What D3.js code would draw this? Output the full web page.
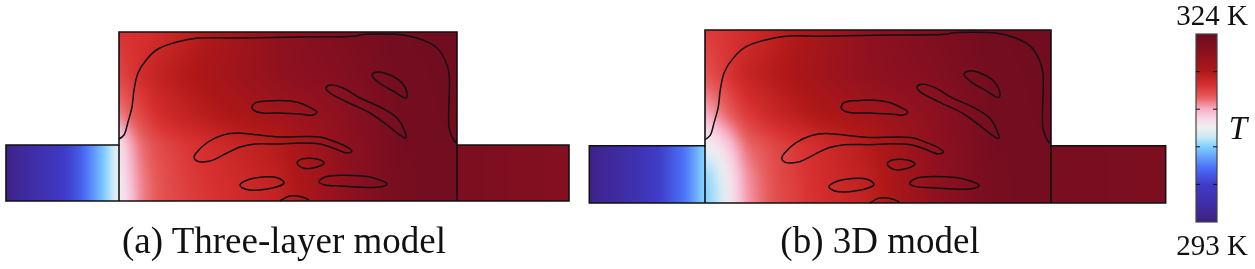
<!DOCTYPE html>
<html lang="en">
<head>
<meta charset="UTF-8">
<title>Temperature field: three-layer model and 3D model</title>
<script src="https://d3js.org/d3.v7.min.js"></script>
<style>
    html, body { margin: 0; padding: 0; background: #fff; }
    #wrap { position: relative; width: 1255px; height: 269px; overflow: hidden; filter: blur(0.4px); }
    canvas, svg { position: absolute; left: 0; top: 0; }
    text { font-family: "Liberation Serif", serif; fill: #111; }
</style>
</head>
<body>
<div id="wrap">
    <canvas id="field" width="1255" height="269"></canvas>
    <svg width="1255" height="269"></svg>
</div>
<script>
// geometry units
const xsMain = [0, 8, 20, 40, 70, 110, 160, 220, 280, 338];
const ysMain = [0, 14, 30, 56, 85, 125, 169];
const xsLeft = [-113, -70, -42, -16, -2, 0];
const xsRight = [338, 450];
const ysSide = [0, 56];

// temperature in K, rows bottom to top
const mainA = [
    [308.3, 310.0, 312.4, 314.0, 314.9, 315.8, 316.8, 320.3, 322.8, 323.2],
    [308.4, 310.2, 312.4, 314.0, 315.0, 315.8, 316.9, 320.3, 322.8, 323.2],
    [308.5, 310.5, 312.6, 314.1, 315.1, 316.0, 317.1, 320.3, 322.8, 323.2],
    [309.0, 311.0, 313.0, 314.4, 315.3, 316.3, 317.5, 320.4, 322.9, 323.2],
    [312.5, 313.4, 314.4, 315.8, 316.8, 318.0, 319.0, 320.6, 323.0, 323.3],
    [314.5, 315.0, 315.8, 316.8, 317.8, 319.0, 320.5, 321.5, 323.1, 323.3],
    [315.5, 315.5, 315.5, 316.0, 317.0, 318.6, 320.6, 322.0, 323.2, 323.3]
];
const mainB = [
    [305.2, 306.2, 308.0, 312.0, 314.3, 315.7, 316.9, 320.3, 322.8, 323.2],
    [305.3, 306.3, 308.2, 312.1, 314.3, 315.7, 317.0, 320.3, 322.8, 323.2],
    [305.7, 306.7, 308.6, 312.3, 314.4, 315.8, 317.1, 320.3, 322.8, 323.2],
    [308.5, 308.8, 310.2, 313.2, 314.6, 315.8, 317.5, 320.4, 322.9, 323.2],
    [311.4, 312.0, 313.2, 315.0, 316.4, 317.8, 319.0, 320.6, 323.0, 323.3],
    [314.0, 314.5, 315.2, 316.6, 317.6, 319.0, 320.5, 321.5, 323.1, 323.3],
    [315.2, 315.2, 315.3, 315.9, 317.0, 318.6, 320.6, 322.0, 323.2, 323.3]
];
const leftA = [
    [293.6, 297.3, 300.5, 305.0, 308.0, 308.5],
    [293.6, 297.3, 300.5, 305.0, 308.0, 308.5]
];
const leftB = [
    [293.6, 296.5, 299.5, 302.7, 305.4, 305.6],
    [293.6, 296.5, 299.5, 302.7, 305.4, 305.6]
];
const rightA = [[322.4, 321.5], [322.4, 321.5]];
const rightB = [[322.6, 322.3], [322.6, 322.3]];

// colorbar
const tMin = 293, tMax = 324;
const barTicks = [299.2, 305.4, 311.6, 317.8];
const barStops = [293, 296, 299.2, 302, 305.4, 307, 308.5, 310, 311.6, 313.5, 315.5, 317.8, 321, 324];
const barColors = ["#3f1f80", "#3f2ea8", "#3e3cc8", "#4a70f8", "#80d0ff", "#c8e8f8", "#efefef",
    "#f8d8e8", "#f8b0c8", "#e86060", "#d83030", "#b01818", "#8a1020", "#6a0c20"];

// phase boundary outlines, x from main block left wall, y up from the bottom
const outlineTop = [[0,62],[5,66],[9,79],[13,94],[15,111],[19,128],[28,142],[39,152],[58,159],[79,163],[114,163],[181,164],[238,165],[241,166],[284,166],[304,161],[318,153],[326,141],[330,128],[330,74],[333,64],[337,58]];
const outlineBlobs = [
    [[133,93],[136,98],[148,100],[171,100],[181,98],[188,95],[198,89],[194,86],[181,87],[161,88],[144,88],[136,90]],
    [[207,113],[211,116],[224,113],[241,103],[261,94],[278,83],[286,69],[287,63],[281,66],[268,76],[251,88],[228,99],[211,108]],
    [[253,126],[258,129],[271,126],[283,118],[288,108],[287,103],[274,110],[259,119]],
    [[75,44],[78,49],[89,59],[104,66],[118,68],[148,65],[161,64],[201,64],[214,60],[228,54],[233,50],[228,48],[214,53],[201,57],[181,58],[161,57],[136,57],[121,54],[108,48],[91,40],[78,40]],
    [[178,38],[183,42],[198,42],[205,38],[198,34],[184,33]],
    [[200,19],[206,24],[244,25],[258,22],[268,17],[261,14],[221,15],[206,16]],
    [[121,16],[126,20],[136,23],[159,23],[165,18],[148,12],[126,12]]
];
const outlineBottom = [[161,0],[168,4],[171,5],[183,4],[190,1]];

const panels = [
    { x0: 119, x1: 457, y0: 201, y1: 32, main: mainA, left: leftA, right: rightA },
    { x0: 705, x1: 1051, y0: 203, y1: 30, main: mainB, left: leftB, right: rightB }
];

const colorOf = d3.scaleLinear().domain(barStops).range(barColors).interpolate(d3.interpolateRgb).clamp(true);

const svg = d3.select("svg");
const ctx = document.getElementById("field").getContext("2d");

const clamp01 = v => Math.min(Math.max(v, 0), 1);

// value at (x,y) from the table, bilinear between the read positions
function lookup(tbl, xs, ys, x, y) {
    const i = Math.min(Math.max(d3.bisectRight(xs, x) - 1, 0), xs.length - 2);
    const j = Math.min(Math.max(d3.bisectRight(ys, y) - 1, 0), ys.length - 2);
    const u = clamp01((x - xs[i]) / (xs[i + 1] - xs[i]));
    const v = clamp01((y - ys[j]) / (ys[j + 1] - ys[j]));
    return (tbl[j][i] * (1 - u) + tbl[j][i + 1] * u) * (1 - v) + (tbl[j + 1][i] * (1 - u) + tbl[j + 1][i + 1] * u) * v;
}

panels.forEach(p => {
    const sx = d3.scaleLinear().domain([0, 338]).range([p.x0, p.x1]);
    const sy = d3.scaleLinear().domain([0, 169]).range([p.y0, p.y1]);

    // paint on a spare canvas with some margin, soften, then clip to the block
    const paint = (tbl, xs, ys, soft) => {
        const ax = Math.round(sx(xs[0])), bx = Math.round(sx(xs[xs.length - 1]));
        const ay = Math.round(sy(ys[ys.length - 1])), by = Math.round(sy(0));
        const pad = 14;
        const off = document.createElement("canvas");
        off.width = bx - ax + 2 * pad;
        off.height = by - ay + 2 * pad;
        const oc = off.getContext("2d");
        for (let px = 0; px < off.width; px++) {
            for (let py = 0; py < off.height; py++) {
                oc.fillStyle = colorOf(lookup(tbl, xs, ys, sx.invert(ax - pad + px + 0.5), sy.invert(ay - pad + py + 0.5)));
                oc.fillRect(px, py, 1, 1);
            }
        }
        ctx.save();
        ctx.beginPath();
        ctx.rect(ax, ay, bx - ax, by - ay);
        ctx.clip();
        ctx.filter = `blur(${soft}px)`;
        ctx.drawImage(off, ax - pad, ay - pad);
        ctx.restore();
    };
    paint(p.left, xsLeft, ysSide, 2);
    paint(p.right, xsRight, ysSide, 2);
    paint(p.main, xsMain, ysMain, 4);

    const line = d3.line().x(d => sx(d[0])).y(d => sy(d[1]));
    const g = svg.append("g").attr("fill", "none").attr("stroke", "#111");

    // block outlines
    const border = [[-113,0],[450,0],[450,56],[338,56],[338,169],[0,169],[0,56],[-113,56]];
    g.append("path").attr("d", line(border) + "Z").attr("stroke-width", 1.6);
    g.append("path").attr("d", line([[0,0],[0,56]])).attr("stroke-width", 1.6);
    g.append("path").attr("d", line([[338,0],[338,56]])).attr("stroke-width", 1.6);

    const smooth = d3.line().x(d => sx(d[0])).y(d => sy(d[1])).curve(d3.curveCatmullRom);
    const closed = d3.line().x(d => sx(d[0])).y(d => sy(d[1])).curve(d3.curveCatmullRomClosed);
    g.append("path").attr("d", smooth(outlineTop)).attr("stroke-width", 1.5);
    g.append("path").attr("d", smooth(outlineBottom)).attr("stroke-width", 1.5);
    g.selectAll(".blob").data(outlineBlobs).enter().append("path")
        .attr("class", "blob").attr("d", d => closed(d)).attr("stroke-width", 1.5);
});

// colorbar
const barY = d3.scaleLinear().domain([tMin, tMax]).range([222, 34]);
const barX0 = 1196, barX1 = 1217;
d3.range(188).forEach(i => {
    ctx.fillStyle = colorOf(barY.invert(34 + i + 0.5));
    ctx.fillRect(barX0, 34 + i, barX1 - barX0, 1);
});
const bar = svg.append("g");
bar.append("rect").attr("x", barX0).attr("y", barY(tMax)).attr("width", barX1 - barX0)
    .attr("height", barY(tMin) - barY(tMax)).attr("fill", "none").attr("stroke", "#444").attr("stroke-width", 1.2);
barTicks.forEach(t => {
    bar.append("line").attr("x1", barX0).attr("x2", barX0 + 4).attr("y1", barY(t)).attr("y2", barY(t)).attr("stroke", "#111");
    bar.append("line").attr("x1", barX1 - 4).attr("x2", barX1).attr("y1", barY(t)).attr("y2", barY(t)).attr("stroke", "#111");
});

svg.append("text").attr("x", 1248).attr("y", 25).attr("text-anchor", "end").attr("font-size", 29).text("324 K");
svg.append("text").attr("x", 1248).attr("y", 255).attr("text-anchor", "end").attr("font-size", 29).text("293 K");
svg.append("text").attr("x", 1238).attr("y", 139).attr("text-anchor", "middle").attr("font-size", 33).attr("font-style", "italic").text("T");

svg.append("text").attr("x", 284).attr("y", 253).attr("text-anchor", "middle").attr("font-size", 37).text("(a) Three-layer model");
svg.append("text").attr("x", 880).attr("y", 253).attr("text-anchor", "middle").attr("font-size", 37).text("(b) 3D model");
</script>
</body>
</html>
